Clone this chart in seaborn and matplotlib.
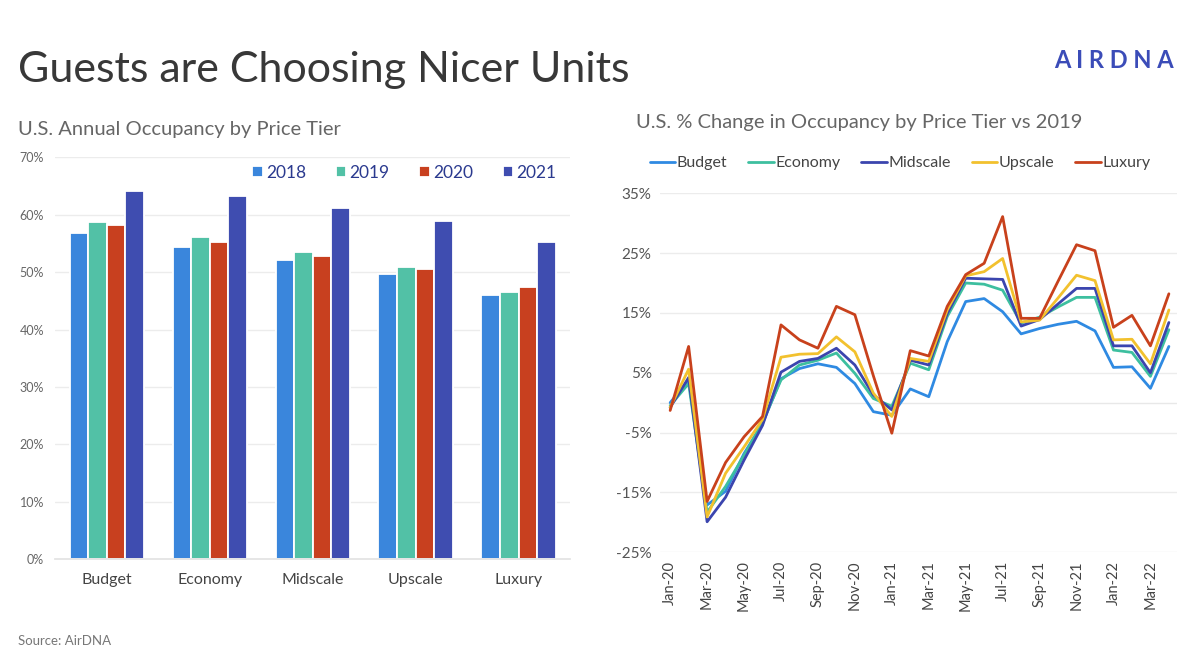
import numpy as np
import pandas as pd
import matplotlib
matplotlib.use("Agg")
import matplotlib.pyplot as plt
import seaborn as sns
from matplotlib.ticker import FuncFormatter

# ---------------- data ----------------
tiers = ["Budget", "Economy", "Midscale", "Upscale", "Luxury"]
years = ["2018", "2019", "2020", "2021"]
occ_2018 = [56.9, 54.4, 52.1, 49.7, 46.1]
occ_2019 = [58.7, 56.1, 53.6, 50.9, 46.5]
occ_2020 = [58.2, 55.2, 52.8, 50.6, 47.5]
occ_2021 = [64.2, 63.2, 61.2, 58.9, 55.3]

months = ["Jan-20", "Feb-20", "Mar-20", "Apr-20", "May-20", "Jun-20", "Jul-20",
          "Aug-20", "Sep-20", "Oct-20", "Nov-20", "Dec-20", "Jan-21", "Feb-21",
          "Mar-21", "Apr-21", "May-21", "Jun-21", "Jul-21", "Aug-21", "Sep-21",
          "Oct-21", "Nov-21", "Dec-21", "Jan-22", "Feb-22", "Mar-22", "Apr-22"]
chg_budget = [0.0, 3.8, -17.1, -14.8, -8.5, -3.5, 4.0, 5.7, 6.5, 5.9, 3.2, -1.5, -2.1, 2.3,
              1.0, 10.2, 16.9, 17.4, 15.2, 11.5, 12.4, 13.1, 13.6, 12.0, 5.9, 6.0, 2.4, 9.4]
chg_economy = [-0.5, 3.2, -18.3, -14.0, -8.8, -3.3, 3.8, 6.3, 7.1, 8.3, 4.9, 0.7, -0.6, 6.6,
               5.5, 14.4, 20.0, 19.8, 18.8, 13.3, 14.3, 16.0, 17.6, 17.6, 8.8, 8.4, 4.4, 12.2]
chg_midscale = [-0.8, 4.2, -19.9, -15.8, -9.6, -3.8, 5.1, 6.9, 7.4, 9.1, 6.3, 1.3, -1.2, 7.1,
                6.3, 14.9, 20.8, 20.7, 20.6, 12.8, 13.9, 16.5, 19.1, 19.1, 9.5, 9.5, 5.0, 13.4]
chg_upscale = [-0.8, 5.6, -19.1, -11.8, -7.4, -2.8, 7.6, 8.1, 8.2, 11.0, 8.5, 1.6, -2.3, 7.4,
               6.9, 15.5, 21.2, 21.9, 24.1, 13.5, 13.8, 17.5, 21.3, 20.4, 10.5, 10.6, 6.5, 15.5]
chg_luxury = [-1.3, 9.4, -16.5, -10.0, -5.7, -2.3, 13.0, 10.5, 9.1, 16.1, 14.7, 4.5, -5.1, 8.7,
              7.8, 16.1, 21.4, 23.3, 31.1, 14.1, 14.1, 20.3, 26.4, 25.4, 12.6, 14.6, 9.5, 18.2]

bar_colors = ["#3a86dc", "#52c1a6", "#c8401f", "#3f4db0"]
line_colors = ["#2f8ae2", "#3dbf9f", "#3b45ae", "#f2c12e", "#c8411c"]

# ---------------- style ----------------
sns.set_theme(style="white")
plt.rcParams["font.family"] = ["Lato", "DejaVu Sans"]

fig = plt.figure(figsize=(12, 6.63), dpi=100)
fig.patch.set_facecolor("white")

# ---------- left: bar chart ----------
bar_df = pd.DataFrame({
    "tier": np.tile(tiers, 4),
    "year": np.repeat(years, 5),
    "occ": occ_2018 + occ_2019 + occ_2020 + occ_2021,
})
ax1 = fig.add_axes([0.046, 0.1564, 0.429, 0.6063])
sns.barplot(data=bar_df, x="tier", y="occ", hue="year", hue_order=years,
            order=tiers, palette=bar_colors, width=0.72, ax=ax1,
            edgecolor="white", linewidth=1.3, saturation=1)
ax1.set_ylim(0, 70)
ax1.set_xlim(-0.5, 4.5)
ax1.set_yticks(range(0, 71, 10))
ax1.yaxis.set_major_formatter(FuncFormatter(lambda v, p: f"{int(v)}%"))
ax1.grid(axis="y", color="#ececec", linewidth=1)
ax1.set_axisbelow(True)
for s in ["top", "right", "left"]:
    ax1.spines[s].set_visible(False)
ax1.spines["bottom"].set_color("#e3e3e3")
ax1.set_xlabel("")
ax1.set_ylabel("")
ax1.tick_params(axis="y", labelsize=9, colors="#666666", length=0, pad=8)
ax1.tick_params(axis="x", labelsize=11.5, colors="#444444", length=0, pad=10)
ax1.legend(loc="center", bbox_to_anchor=(0.337, 0.739), bbox_transform=fig.transFigure,
           ncol=4, frameon=False, fontsize=12.5, handlelength=0.6, handleheight=0.6,
           columnspacing=1.7, handletextpad=0.2, labelcolor="#2b3a8f")

# ---------- right: line chart ----------
series = {"Budget": chg_budget, "Economy": chg_economy, "Midscale": chg_midscale,
          "Upscale": chg_upscale, "Luxury": chg_luxury}
line_df = pd.DataFrame([
    {"idx": i, "tier": t, "chg": v}
    for t, vals in series.items() for i, v in enumerate(vals)
])
ax2 = fig.add_axes([0.55, 0.167, 0.431, 0.5415])
sns.lineplot(data=line_df, x="idx", y="chg", hue="tier", hue_order=tiers,
             palette=line_colors, linewidth=2.0, ax=ax2)
ax2.set_ylim(-25, 35)
ax2.set_xlim(-0.55, 27.45)
ax2.set_yticks(range(-25, 36, 10))
ax2.yaxis.set_major_formatter(FuncFormatter(lambda v, p: f"{int(v)}%"))
ax2.set_xticks(range(0, len(months), 2))
ax2.set_xticklabels(months[::2], rotation=90)
ax2.axhline(0, color="#e8e8e8", linewidth=1, zorder=0)
ax2.grid(axis="y", color="#ececec", linewidth=1)
ax2.set_axisbelow(True)
for s in ["top", "right", "left", "bottom"]:
    ax2.spines[s].set_visible(False)
ax2.set_xlabel("")
ax2.set_ylabel("")
ax2.tick_params(axis="y", labelsize=11, colors="#555555", length=0, pad=6)
ax2.tick_params(axis="x", labelsize=10.5, colors="#444444", length=0, pad=6)
ax2.legend(loc="center", bbox_to_anchor=(0.75, 0.754), bbox_transform=fig.transFigure,
           ncol=5, frameon=False, fontsize=11.5, handlelength=1.6, handletextpad=0.1,
           columnspacing=1.3, labelcolor="#444444")

# ---------- texts ----------
fig.text(0.015, 0.895, "Guests are Choosing Nicer Units", fontsize=31,
         color="#383838", va="center", ha="left")
fig.text(0.015, 0.805, "U.S. Annual Occupancy by Price Tier", fontsize=14.5,
         color="#666666", va="center", ha="left")
fig.text(0.53, 0.815, "U.S. % Change in Occupancy by Price Tier vs 2019", fontsize=14.5,
         color="#666666", va="center", ha="left")
fig.text(0.978, 0.908, "A I R D N A", fontsize=17, fontweight="bold",
         color="#3b4cb8", va="center", ha="right")
fig.text(0.015, 0.033, "Source: AirDNA", fontsize=9.5, color="#777777",
         va="center", ha="left")

fig.savefig("out.png", dpi=100, facecolor="white")
